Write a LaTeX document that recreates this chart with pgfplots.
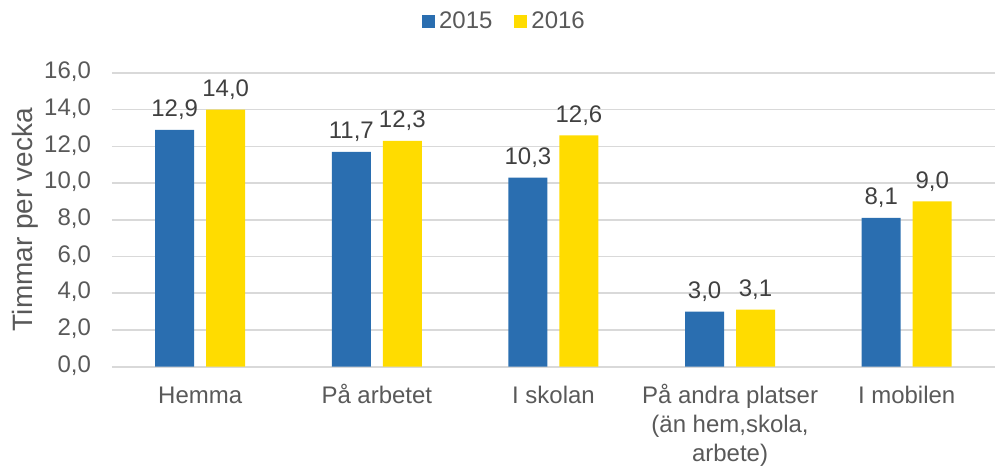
\documentclass[border=0pt]{standalone}
\usepackage{fontspec}
\setmainfont{Liberation Sans}
\usepackage{pgfplots}
\pgfplotsset{compat=1.18}

\definecolor{blue15}{HTML}{2A6EB0}
\definecolor{yellow16}{HTML}{FFDC00}
\definecolor{gridgray}{HTML}{D9D9D9}
\definecolor{txtgray}{HTML}{595959}
\definecolor{lblgray}{HTML}{404040}

\begin{document}
\begin{tikzpicture}
\begin{axis}[
    at={(0,0)}, anchor=south west,
    scale only axis,
    width=442pt, height=147pt,
    ybar=6pt, bar width=19.5pt,
    xmin=-0.5, xmax=4.5,
    ymin=0, ymax=16,
    xtick=data,
    xticklabels={Hemma, På arbetet, I skolan, {På andra platser\\(än hem,skola,\\arbete)}, I mobilen},
    ytick={0,2,...,16},
    axis lines*=left,
    y axis line style={draw=none},
    x axis line style={draw=gridgray, line width=1pt, -},
    ymajorgrids, grid style={gridgray, line width=0.75pt},
    major tick length=0pt,
    /pgf/number format/.cd, use comma, fixed, fixed zerofill, precision=1, assume math mode=true,
    /pgfplots/.cd,
    typeset ticklabels with strut,
    tick label style={font=\fontsize{12}{14.5}\selectfont, text=txtgray},
    xticklabel style={align=center, yshift=-5pt},
    yticklabel style={xshift=-7pt},
    ylabel={Timmar per vecka},
    ylabel style={at={(axis description cs:-0.098,0.5)}, anchor=center, font=\fontsize{14}{17}\selectfont, text=txtgray},
    nodes near coords,
    nodes near coords style={font=\fontsize{12}{14.5}\selectfont, text=lblgray, yshift=1.5pt, /pgf/number format/.cd, use comma, fixed, fixed zerofill, precision=1, assume math mode=true},
    legend style={at={(0.4457,1.175)}, anchor=center, draw=none, legend columns=-1,
        font=\fontsize{12}{14.5}\selectfont, text=txtgray,
        /tikz/every even column/.append style={column sep=9pt}},
    legend image code/.code={\fill[#1] (0pt,-3.25pt) rectangle (6.5pt,3.25pt);},
]
\addplot[fill=blue15, draw=none] coordinates {(0,12.9) (1,11.7) (2,10.3) (3,3.0) (4,8.1)};
\addplot[fill=yellow16, draw=none] coordinates {(0,14.0) (1,12.3) (2,12.6) (3,3.1) (4,9.0)};
\legend{2015, 2016}
\end{axis}
\path[use as bounding box] (-56pt,-48pt) rectangle (442pt,183.5pt);
\end{tikzpicture}
\end{document}
